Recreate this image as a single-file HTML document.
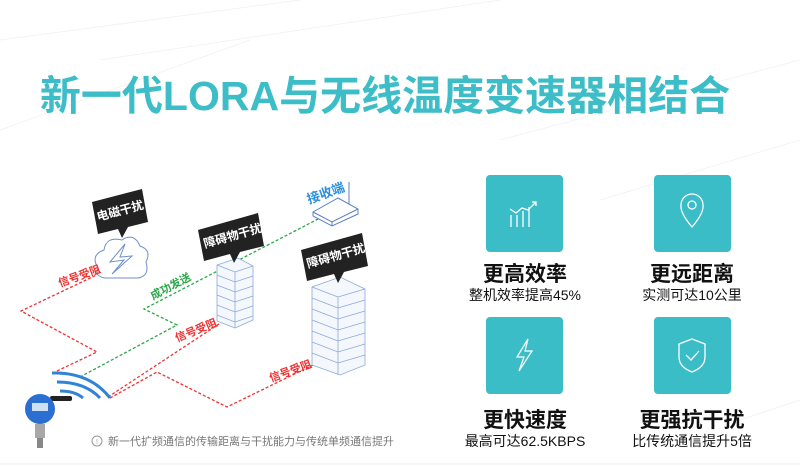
<!DOCTYPE html>
<html><head><meta charset="utf-8"><style>
html,body{margin:0;padding:0;}
body{width:800px;height:467px;position:relative;overflow:hidden;background:#fff;font-family:"Liberation Sans","Noto Sans CJK SC",sans-serif;}
.title{position:absolute;left:0;width:770px;top:62px;text-align:center;font-size:41px;font-weight:bold;color:#3cbdc7;white-space:nowrap;}
.tile{position:absolute;width:77px;height:77px;background:#3bbdc7;border-radius:4px;}
.t1{position:absolute;width:160px;text-align:center;font-size:21px;color:#111;font-weight:bold;}
.t2{position:absolute;width:160px;text-align:center;font-size:14px;color:#111;}
</style></head><body>
<svg width="800" height="467" style="position:absolute;left:0;top:0">
<g stroke="#f3f3f3" stroke-width="1" fill="none">
<path d="M0 40 L300 0 M100 60 L500 0 M500 140 L800 60 M600 200 L800 140 M740 420 L800 400 M0 130 L250 40"/>
</g>
<line x1="0" y1="464" x2="800" y2="464" stroke="#ececec"/>
<g fill="none" stroke-width="1.3" stroke-dasharray="3,2">
<polyline stroke="#f03030" points="57,371 97,352 21,311 107,270"/>
<polyline stroke="#2aa84a" points="80,377 177,325 144,309 322,217"/>
<polyline stroke="#f03030" points="108,397 222,322"/>
<polyline stroke="#f03030" points="110,398 157,372 227,407 317,363"/>
</g>
<path d="M98 268 Q90 255 104 250 Q106 236 122 240 Q134 232 140 246 Q152 250 146 262 Q150 276 138 278 L105 278 Q94 276 98 268 Z" fill="#fff" stroke="#6f8fc8" stroke-width="1"/>
<path d="M125 244 L110 262 L124 260 L112 274 L132 256 L120 257 Z" fill="none" stroke="#6f8fc8" stroke-width="1"/>
<g stroke="#8ea8d8" stroke-width="0.8" fill="#f4f7fc">
<path d="M217 265 L238 258 L253 266 L253 320 L235 328 L217 321 Z"/>
<path d="M217 265 L235 272 L253 266 M235 272 L235 328"/>
<path d="M217 275 L235 282 L253 276 M217 285 L235 292 L253 286 M217 295 L235 302 L253 296 M217 305 L235 312 L253 306 M217 315 L235 322 L253 316" fill="none"/>
</g>
<g stroke="#8ea8d8" stroke-width="0.8" fill="#f4f7fc">
<path d="M312 287 L340 277 L365 289 L365 365 L340 375 L312 365 Z"/>
<path d="M312 287 L338 297 L365 289 M338 297 L338 375" fill="none"/>
<path d="M312 298 L338 308 L365 300 M312 309 L338 319 L365 311 M312 320 L338 330 L365 322 M312 331 L338 341 L365 333 M312 342 L338 352 L365 344 M312 353 L338 363 L365 355" fill="none"/>
</g>
<g stroke="#5b7fc4" stroke-width="1" fill="#fff">
<line x1="349" y1="182" x2="349" y2="205"/>
<path d="M313 212 L338 198 L358 209 L358 214 L332 226 L313 216 Z"/>
<path d="M313 212 L332 222 L358 209 M332 222 L332 226" fill="none"/>
</g>
<g fill="#222">
<path d="M92 202 L142 189 L148 222 L128 227 L122 238 L118 229 L98 234 Z"/>
<path d="M198 230 L258 213 L264 246 L240 252 L234 263 L230 254 L204 261 Z"/>
<path d="M301 250 L362 233 L368 266 L344 272 L338 283 L334 274 L307 281 Z"/>
</g>
<g fill="#fff" font-weight="bold" font-size="12">
<text x="98" y="221" transform="rotate(-15 98 221)">电磁干扰</text>
<text x="205" y="248" transform="rotate(-16 205 248)">障碍物干扰</text>
<text x="308" y="268" transform="rotate(-16 308 268)">障碍物干扰</text>
</g>
<text x="309" y="204" transform="rotate(-20 309 204)" fill="#2a8fe0" font-size="13" font-weight="bold">接收端</text>
<g font-size="11" font-weight="bold">
<text x="60" y="287" transform="rotate(-20 60 287)" fill="#f03030">信号受阻</text>
<text x="153" y="300" transform="rotate(-28 153 300)" fill="#2aa84a">成功发送</text>
<text x="177" y="342" transform="rotate(-22 177 342)" fill="#f03030">信号受阻</text>
<text x="271" y="382" transform="rotate(-20 271 382)" fill="#f03030">信号受阻</text>
</g>
<g fill="none" stroke="#2f84d8" stroke-width="3">
<path d="M52 373 Q90 372 110 398"/>
<path d="M57 382 Q85 382 100 398"/>
<path d="M60 391 Q75 391 83 398"/>
</g>
<rect x="50" y="396" width="22" height="5" rx="2" fill="#222"/>
<circle cx="40" cy="409" r="15" fill="#2b6fd0"/>
<rect x="32" y="403" width="16" height="8" fill="#cfe0f5"/>
<rect x="35" y="424" width="10" height="14" fill="#a8a8a8"/>
<rect x="37" y="438" width="6" height="10" fill="#888"/>
<circle cx="97" cy="441" r="5" fill="none" stroke="#999"/>
<text x="96" y="444" font-size="7" fill="#999">!</text>
<text x="108" y="445" font-size="11" fill="#777">新一代扩频通信的传输距离与干扰能力与传统单频通信提升</text>
</svg>
<div class="title">新一代LORA与无线温度变速器相结合</div>

<div class="tile" style="left:486px;top:175px"><svg width="77" height="77"><g stroke="#fff" stroke-width="1.3" fill="none"><path d="M25 40 L25 52 M31 40 L31 52 M37 36 L37 52 M43 32 L43 52 M24 34 L30 38 L36 33 L42 35 L50 27 M46 27 L50 27 L50 31"/></g></svg></div>
<div class="tile" style="left:654px;top:175px"><svg width="77" height="77"><g stroke="#fff" stroke-width="1.3" fill="none"><path d="M38 52 Q26 38 27 30 A11 11 0 0 1 49 30 Q50 38 38 52 Z"/><circle cx="38" cy="30" r="4"/></g></svg></div>
<div class="tile" style="left:486px;top:317px"><svg width="77" height="77"><path d="M42 22 L31 40 L38 40 L33 54 L46 34 L39 34 Z" stroke="#fff" stroke-width="1.2" fill="none"/></svg></div>
<div class="tile" style="left:654px;top:317px"><svg width="77" height="77"><g stroke="#fff" stroke-width="1.3" fill="none"><path d="M38 22 L51 27 L51 40 Q51 50 38 55 Q25 50 25 40 L25 27 Z"/><path d="M32 38 L37 43 L45 34"/></g></svg></div>

<div class="t1" style="left:445px;top:258px">更高效率</div>
<div class="t2" style="left:445px;top:285px">整机效率提高45%</div>
<div class="t1" style="left:612px;top:258px">更远距离</div>
<div class="t2" style="left:612px;top:285px">实测可达10公里</div>
<div class="t1" style="left:445px;top:404px">更快速度</div>
<div class="t2" style="left:445px;top:431px">最高可达62.5KBPS</div>
<div class="t1" style="left:612px;top:404px">更强抗干扰</div>
<div class="t2" style="left:612px;top:431px">比传统通信提升5倍</div>
</body></html>
